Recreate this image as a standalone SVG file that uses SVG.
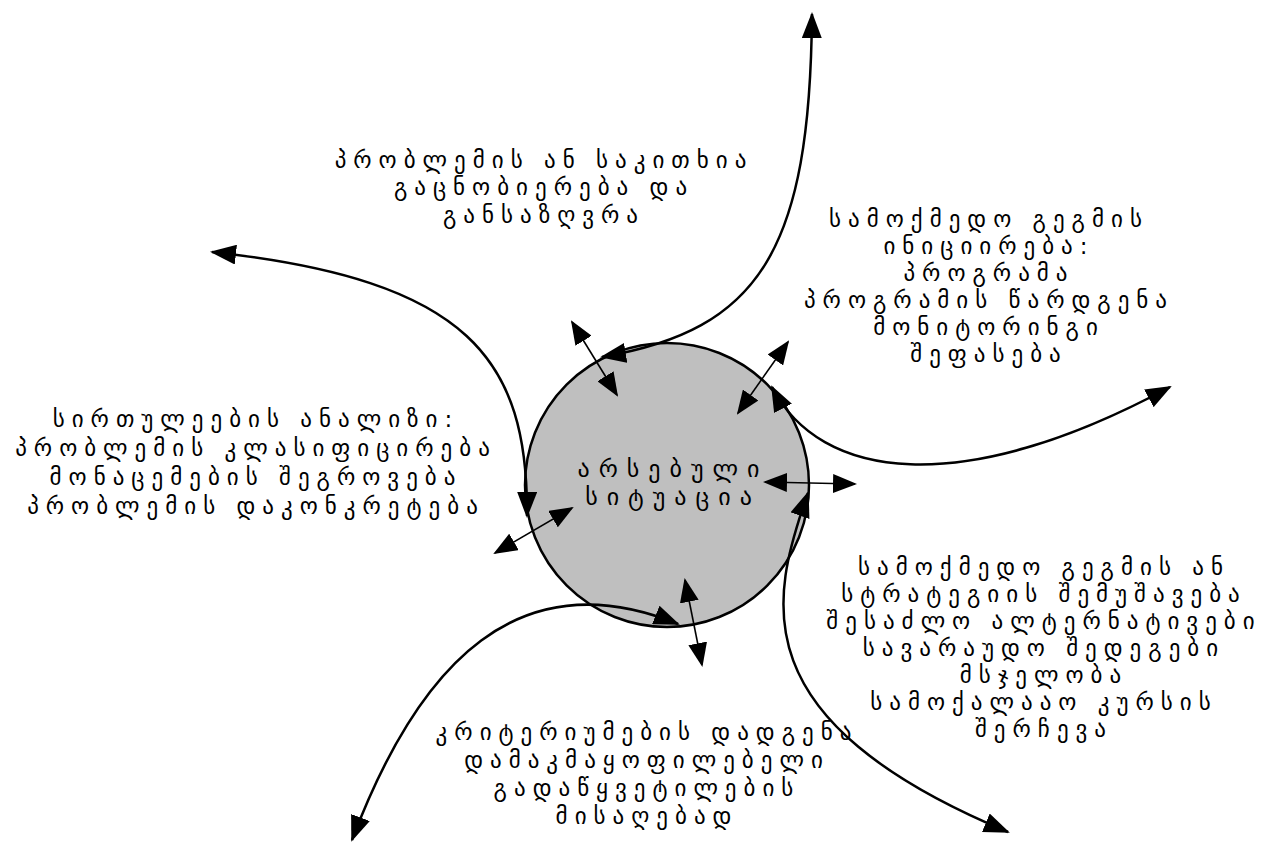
<svg xmlns="http://www.w3.org/2000/svg" width="1272" height="854" viewBox="0 0 1272 854">
<defs>
<marker id="ah" viewBox="0 0 26 20" refX="24" refY="10" markerWidth="26" markerHeight="20" markerUnits="userSpaceOnUse" orient="auto-start-reverse">
<path d="M0,0 L26,10 L0,20 z" fill="#000"/>
</marker>
<marker id="ah2" viewBox="0 0 24 19" refX="22" refY="9.5" markerWidth="24" markerHeight="19" markerUnits="userSpaceOnUse" orient="auto-start-reverse">
<path d="M0,0 L24,9.5 L0,19 z" fill="#000"/>
</marker>
<style>
.lbl{font-family:"DejaVu Sans","Noto Sans",sans-serif;font-size:23px;letter-spacing:7px;fill:#000;text-anchor:middle}
.ctr{font-size:24px;letter-spacing:9px}
.cur{fill:none;stroke:#000;stroke-width:2.5;marker-start:url(#ah);marker-end:url(#ah)}
.dbl{fill:none;stroke:#000;stroke-width:1.6;marker-start:url(#ah2);marker-end:url(#ah2)}
</style>
</defs>
<rect width="1272" height="854" fill="#fff"/>
<g id="center">
<circle cx="667" cy="485" r="142" fill="#bfbfbf" stroke="#000" stroke-width="2.5"/>
<text class="lbl ctr"><tspan x="673" y="477">არსებული</tspan><tspan x="673" y="505">სიტუაცია</tspan></text>
</g>
<g id="connectors">
<path class="cur" d="M812,14 C810,250 760,330 602,357"/>
<path class="cur" d="M212,252 C470,280 528,360 527,516"/>
<path class="cur" d="M772,387 C820,480 960,500 1170,387"/>
<path class="cur" d="M808,493 C770,600 740,720 1008,832"/>
<path class="cur" d="M352,840 C420,660 520,560 678,624"/>
<path class="dbl" d="M572,322 L617,395"/>
<path class="dbl" d="M788,342 L738,413"/>
<path class="dbl" d="M765,482 L855,484"/>
<path class="dbl" d="M572,508 L495,553"/>
<path class="dbl" d="M685,580 L702,665"/>
</g>
<g id="n-top">
<text class="lbl"><tspan x="544" y="168">პრობლემის ან საკითხია</tspan><tspan x="544" y="195">გაცნობიერება და</tspan><tspan x="544" y="223">განსაზღვრა</tspan></text>
</g>
<g id="n-right-top">
<text class="lbl"><tspan x="989" y="227">სამოქმედო გეგმის</tspan><tspan x="989" y="254">ინიციირება:</tspan><tspan x="989" y="281">პროგრამა</tspan><tspan x="989" y="308">პროგრამის წარდგენა</tspan><tspan x="989" y="335">მონიტორინგი</tspan><tspan x="989" y="362">შეფასება</tspan></text>
</g>
<g id="n-left">
<text class="lbl"><tspan x="256" y="427">სირთულეების ანალიზი:</tspan><tspan x="256" y="456">პრობლემის კლასიფიცირება</tspan><tspan x="256" y="485">მონაცემების შეგროვება</tspan><tspan x="256" y="514">პრობლემის დაკონკრეტება</tspan></text>
</g>
<g id="n-right-bottom">
<text class="lbl"><tspan x="1044" y="575">სამოქმედო გეგმის ან</tspan><tspan x="1044" y="602">სტრატეგიის შემუშავება</tspan><tspan x="1044" y="629">შესაძლო ალტერნატივები</tspan><tspan x="1044" y="656">სავარაუდო შედეგები</tspan><tspan x="1044" y="683">მსჯელობა</tspan><tspan x="1044" y="710">სამოქალააო კურსის</tspan><tspan x="1044" y="737">შერჩევა</tspan></text>
</g>
<g id="n-bottom">
<text class="lbl"><tspan x="647" y="740">კრიტერიუმების დადგენა</tspan><tspan x="647" y="768">დამაკმაყოფილებელი</tspan><tspan x="647" y="796">გადაწყვეტილების</tspan><tspan x="647" y="824">მისაღებად</tspan></text>
</g>
</svg>
